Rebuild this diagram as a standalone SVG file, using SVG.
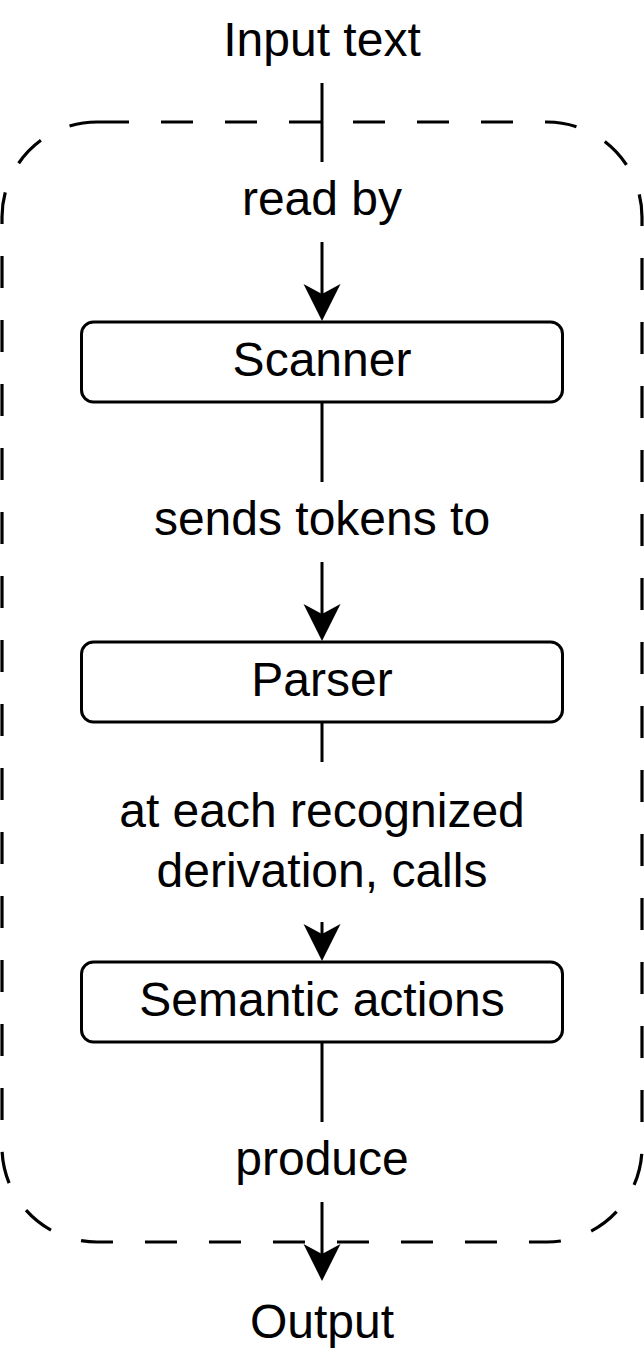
<svg xmlns="http://www.w3.org/2000/svg" width="644" height="1360" viewBox="0 0 644 1360">
<style>
text{font-family:"Liberation Sans",Arial,sans-serif;font-size:48px;fill:#000;text-anchor:middle}
.box{fill:#fff;stroke:#000;stroke-width:3}
.edge{stroke:#000;stroke-width:3;fill:none}
.head{fill:#000}
.frame{fill:none;stroke:#000;stroke-width:3.2;stroke-dasharray:32 32}
</style>
<defs>
<path id="ah" d="M0,0 L-18.5,-37 L0,-27 L18.5,-37 Z"/>
</defs>
<g id="frame">
<path class="frame" d="M97,122 H547 A95,95 0 0 1 642,217 V1147 A95,95 0 0 1 547,1242 H97 A95,95 0 0 1 2,1147 V217 A95,95 0 0 1 97,122 Z"/>
</g>
<g id="connectors">
<line class="edge" x1="322" y1="83" x2="322" y2="162"/>
<line class="edge" x1="322" y1="242" x2="322" y2="310"/>
<use href="#ah" class="head" x="322" y="321"/>
<line class="edge" x1="322" y1="402" x2="322" y2="482"/>
<line class="edge" x1="322" y1="562" x2="322" y2="630"/>
<use href="#ah" class="head" x="322" y="641"/>
<line class="edge" x1="322" y1="722" x2="322" y2="762"/>
<line class="edge" x1="322" y1="922" x2="322" y2="950"/>
<use href="#ah" class="head" x="322" y="961"/>
<line class="edge" x1="322" y1="1042" x2="322" y2="1122"/>
<line class="edge" x1="322" y1="1202" x2="322" y2="1270"/>
<use href="#ah" class="head" x="322" y="1281"/>
<text x="322" y="215">read by</text>
<text x="322" y="535">sends tokens to</text>
<text x="322" y="827">at each recognized</text>
<text x="322" y="887">derivation, calls</text>
<text x="322" y="1175">produce</text>
</g>
<g id="input"><text x="322" y="56">Input text</text></g>
<g id="scanner"><rect class="box" x="81.5" y="322" width="481" height="80" rx="12"/><text x="322" y="376">Scanner</text></g>
<g id="parser"><rect class="box" x="81.5" y="642" width="481" height="80" rx="12"/><text x="322" y="696">Parser</text></g>
<g id="semantic"><rect class="box" x="81.5" y="962" width="481" height="80" rx="12"/><text x="322" y="1016">Semantic actions</text></g>
<g id="output"><text x="322" y="1338">Output</text></g>
</svg>
